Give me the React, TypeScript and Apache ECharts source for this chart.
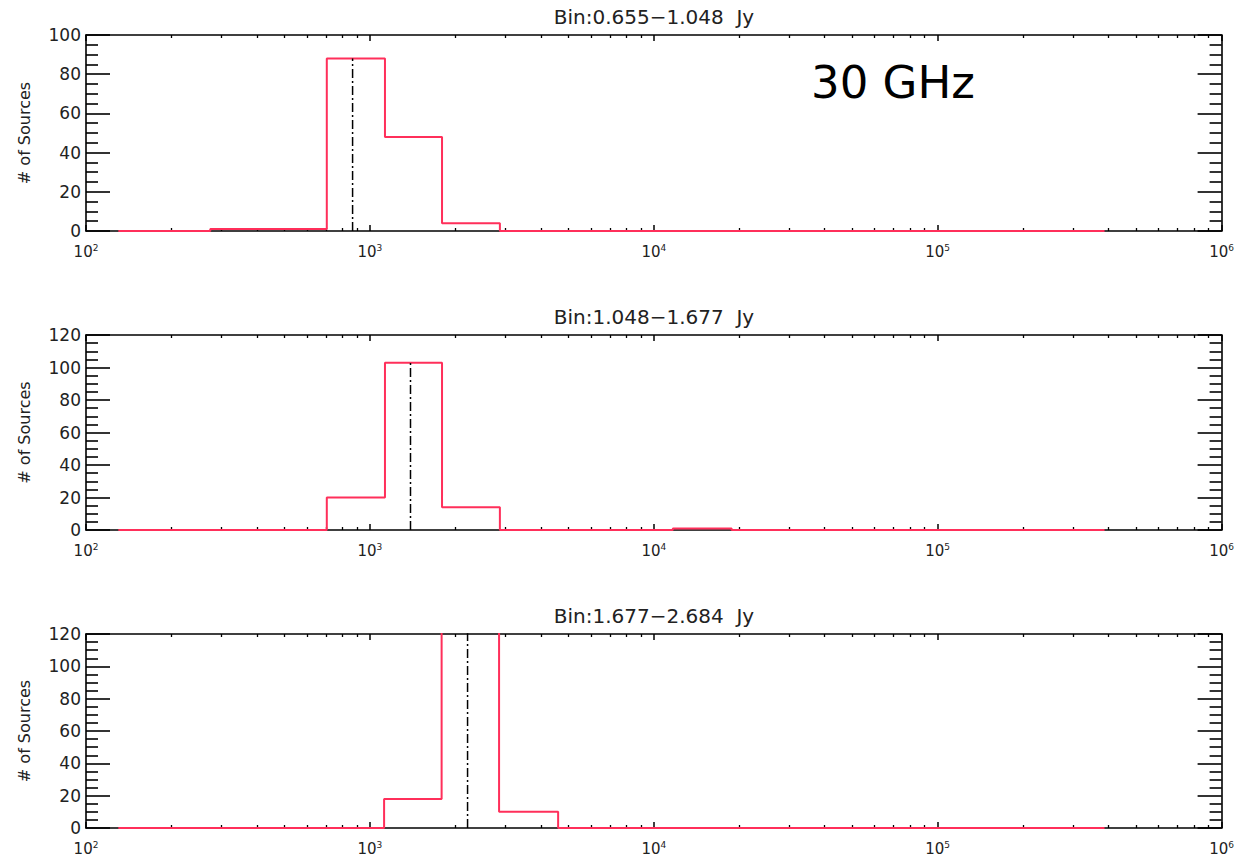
import React, { useEffect, useRef } from "react";
import * as echarts from "echarts";

// ---- data ----
const panelTitles = ["Bin:0.655\u22121.048  Jy", "Bin:1.048\u22121.677  Jy", "Bin:1.677\u22122.684  Jy"];
const yMaxes = [100, 120, 120];

// histogram bin edges (flux) and counts per panel
const edges1 = [130, 274, 705, 1130, 1795, 2870, 387000];
const counts1 = [0, 1, 88, 48, 4, 0];

const edges2 = [130, 705, 1130, 1795, 2870, 11670, 18800, 387000];
const counts2 = [0, 20, 103, 14, 0, 1, 0];

const edges3 = [130, 1122, 1789, 2851, 4603, 387000];
const counts3 = [0, 18, 150, 10, 0];

// median markers (flux) and their heights
const medians = [869, 1390, 2208];
const medianHeights = [88, 103, 150];

const freqLabel = "30 GHz";

const allEdges = [edges1, edges2, edges3];
const allCounts = [counts1, counts2, counts3];

const FONT = "DejaVu Sans";
const RED = "#ff2f5a";

function stepPoints(edges: number[], counts: number[]) {
  const pts: number[][] = [];
  for (let i = 0; i < counts.length; i++) {
    pts.push([edges[i], counts[i]]);
    pts.push([edges[i + 1], counts[i]]);
  }
  return pts;
}

export default function App() {
  const ref = useRef<HTMLDivElement>(null);
  useEffect(() => {
    if (!ref.current) return;
    const chart = echarts.init(ref.current, undefined, { renderer: "svg" });
    const gridTops = [35, 335, 634];
    const gridHeights = [196, 195, 194];
    const grids: any[] = [];
    const xAxes: any[] = [];
    const yAxes: any[] = [];
    const series: any[] = [];
    const graphics: any[] = [];
    const lineStyle = { color: "#000", width: 1.6 };
    for (let p = 0; p < 3; p++) {
      grids.push({ left: 86, top: gridTops[p], width: 1137, height: gridHeights[p], show: false });
      const baseX = {
        type: "log",
        logBase: 10,
        min: 100,
        max: 1000000,
        gridIndex: p,
        axisLine: { show: true, lineStyle, onZero: false },
        axisTick: { show: true, inside: true, length: 6, lineStyle: { color: "#000", width: 1.5 } },
        minorTick: { show: true, splitNumber: 9, length: 3, lineStyle: { color: "#000", width: 1.3 } },
        splitLine: { show: false },
        minorSplitLine: { show: false },
      };
      xAxes.push({
        ...baseX,
        position: "bottom",
        axisLabel: {
          show: true,
          margin: 12,
          color: "#222",
          fontFamily: FONT,
          fontSize: 15,
          formatter: (v: number) => "10{s|" + Math.round(Math.log10(v)) + "}",
          rich: { s: { fontSize: 9, fontFamily: FONT, color: "#222", verticalAlign: "top", padding: [0, 0, 8, 0] } },
        },
      });
      xAxes.push({ ...baseX, position: "top", axisLabel: { show: false } });
      const baseY = {
        type: "value",
        min: 0,
        max: yMaxes[p],
        interval: 20,
        gridIndex: p,
        axisLine: { show: true, lineStyle, onZero: false },
        axisTick: { show: true, inside: true, length: 24, lineStyle: { color: "#000", width: 1.6 } },
        minorTick: { show: true, splitNumber: 4, length: 12, lineStyle: { color: "#000", width: 1.6 } },
        splitLine: { show: false },
        minorSplitLine: { show: false },
      };
      yAxes.push({
        ...baseY,
        position: "left",
        name: "# of Sources",
        nameLocation: "middle",
        nameGap: 54,
        nameTextStyle: { fontFamily: FONT, fontSize: 16, color: "#222" },
        axisLabel: { show: true, margin: 5, color: "#222", fontFamily: FONT, fontSize: 17 },
      });
      yAxes.push({ ...baseY, position: "right", name: "", axisLabel: { show: false } });

      series.push({
        type: "line",
        xAxisIndex: p * 2,
        yAxisIndex: p * 2,
        data: stepPoints(allEdges[p], allCounts[p]),
        showSymbol: false,
        symbol: "none",
        clip: true,
        lineStyle: { color: RED, width: 2 },
        z: 5,
      });
      series.push({
        type: "line",
        xAxisIndex: p * 2,
        yAxisIndex: p * 2,
        data: [
          [medians[p], 0],
          [medians[p], medianHeights[p]],
        ],
        showSymbol: false,
        symbol: "none",
        clip: true,
        lineStyle: { color: "#000", width: 1.5, type: [9, 3, 2, 3] },
        z: 6,
      });
      graphics.push({
        type: "text",
        x: 654,
        y: gridTops[p] - 18,
        style: {
          text: panelTitles[p],
          fontFamily: FONT,
          fontSize: 20,
          fill: "#222",
          textAlign: "center",
          textVerticalAlign: "middle",
        },
      });
    }
    graphics.push({
      type: "text",
      x: 811,
      y: 82,
      style: {
        text: freqLabel,
        fontFamily: FONT,
        fontSize: 45,
        fill: "#000",
        textAlign: "left",
        textVerticalAlign: "middle",
      },
    });
    chart.setOption({
      animation: false,
      backgroundColor: "#fff",
      grid: grids,
      xAxis: xAxes,
      yAxis: yAxes,
      series,
      graphic: graphics,
    });
    return () => chart.dispose();
  }, []);
  return <div ref={ref} style={{ position: "absolute", left: 0, top: 0, width: 1237, height: 858 }} />;
}
